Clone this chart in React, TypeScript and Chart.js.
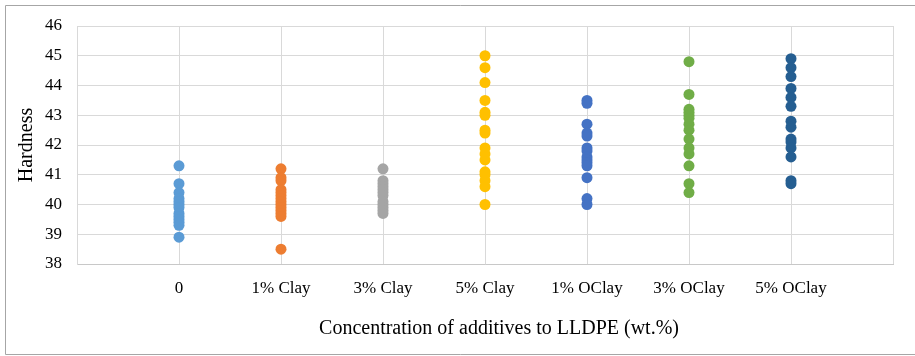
import React, { useEffect, useRef } from "react";
import { Chart, registerables } from "chart.js";

Chart.register(...registerables);

const categories = ["0", "1% Clay", "3% Clay", "5% Clay", "1% OClay", "3% OClay", "5% OClay"];

const hardness0 = [41.3, 40.7, 40.4, 40.2, 40.1, 40.0, 39.9, 39.7, 39.6, 39.5, 39.4, 39.3, 38.9];
const hardnessClay1 = [41.2, 40.9, 40.8, 40.5, 40.4, 40.3, 40.2, 40.1, 40.0, 39.9, 39.8, 39.7, 39.6, 38.5];
const hardnessClay3 = [41.2, 40.8, 40.7, 40.6, 40.5, 40.4, 40.3, 40.1, 40.0, 39.9, 39.8, 39.7];
const hardnessClay5 = [45.0, 44.6, 44.1, 43.5, 43.1, 43.0, 42.5, 42.4, 41.9, 41.7, 41.5, 41.1, 41.0, 40.8, 40.6, 40.0];
const hardnessOClay1 = [43.5, 43.4, 42.7, 42.4, 42.3, 41.9, 41.8, 41.6, 41.5, 41.4, 41.3, 40.9, 40.2, 40.0];
const hardnessOClay3 = [44.8, 43.7, 43.2, 43.1, 43.0, 42.9, 42.7, 42.5, 42.2, 41.9, 41.7, 41.3, 40.7, 40.4];
const hardnessOClay5 = [44.9, 44.6, 44.3, 43.9, 43.6, 43.3, 42.8, 42.6, 42.2, 42.1, 41.9, 41.6, 40.8, 40.7];

const seriesValues = [hardness0, hardnessClay1, hardnessClay3, hardnessClay5, hardnessOClay1, hardnessOClay3, hardnessOClay5];
const seriesColors = ["#5B9BD5", "#ED7D31", "#A5A5A5", "#FFC000", "#4472C4", "#70AD47", "#255E91"];

const yMin = 38;
const yMax = 46;
const yTitle = "Hardness";
const xTitle = "Concentration of additives to LLDPE (wt.%)";

const FONT = '"Liberation Serif", "Times New Roman", serif';

export default function App() {
  const ref = useRef<HTMLCanvasElement | null>(null);

  useEffect(() => {
    if (!ref.current) return;

    const framePlugin = {
      id: "frame",
      beforeDraw(chart: any) {
        const ctx = chart.ctx;
        ctx.save();
        ctx.strokeStyle = "#a6a6a6";
        ctx.lineWidth = 1;
        ctx.beginPath();
        ctx.moveTo(915, 5.5);
        ctx.lineTo(5.5, 5.5);
        ctx.lineTo(5.5, 354.5);
        ctx.lineTo(915, 354.5);
        ctx.stroke();
        ctx.restore();
      },
      afterDraw(chart: any) {
        const ctx = chart.ctx;
        ctx.save();
        ctx.fillStyle = "#000";
        ctx.font = `20px ${FONT}`;
        ctx.textAlign = "center";
        ctx.textBaseline = "middle";
        ctx.fillText(xTitle, 499, 329);
        ctx.restore();
      },
    };

    const chart = new Chart(ref.current, {
      type: "scatter",
      data: {
        datasets: seriesValues.map((vals, i) => ({
          label: categories[i],
          data: vals.map((v) => ({ x: i + 1, y: v })),
          backgroundColor: seriesColors[i],
          borderColor: seriesColors[i],
          borderWidth: 0,
          pointRadius: 5.5,
          pointHoverRadius: 5.5,
        })),
      },
      options: {
        responsive: false,
        animation: false,
        layout: { padding: { left: 0, top: 26, right: 22, bottom: 0 } },
        plugins: {
          legend: { display: false },
          tooltip: { enabled: false },
        },
        scales: {
          x: {
            type: "linear",
            min: 0,
            max: categories.length + 1,
            afterBuildTicks: (s: any) => {
              s.ticks = Array.from({ length: categories.length + 2 }, (_, k) => ({ value: k }));
            },
            afterFit: (s: any) => {
              s.height = 92;
            },
            ticks: {
              autoSkip: false,
              maxRotation: 0,
              padding: 14,
              color: "#000",
              font: { family: FONT, size: 17 },
              callback: (v: any) => categories[Number(v) - 1] ?? "",
            },
            grid: { color: "#d9d9d9", drawTicks: false, lineWidth: 1 },
            border: { color: "#c8c8c8" },
          },
          y: {
            min: yMin,
            max: yMax,
            afterFit: (s: any) => {
              s.width = 77;
            },
            ticks: {
              stepSize: 1,
              padding: 15,
              color: "#000",
              font: { family: FONT, size: 17 },
            },
            grid: { color: "#d9d9d9", drawTicks: false, lineWidth: 1 },
            border: { color: "#d9d9d9" },
            title: {
              display: true,
              text: yTitle,
              color: "#000",
              font: { family: FONT, size: 20 },
              padding: { top: 15, bottom: 0 },
            },
          },
        },
      },
      plugins: [framePlugin],
    });

    return () => chart.destroy();
  }, []);

  return (
    <div style={{ position: "absolute", left: 0, top: 0, width: 915, height: 356, background: "#fff" }}>
      <canvas ref={ref} width={915} height={356} style={{ display: "block" }} />
    </div>
  );
}
